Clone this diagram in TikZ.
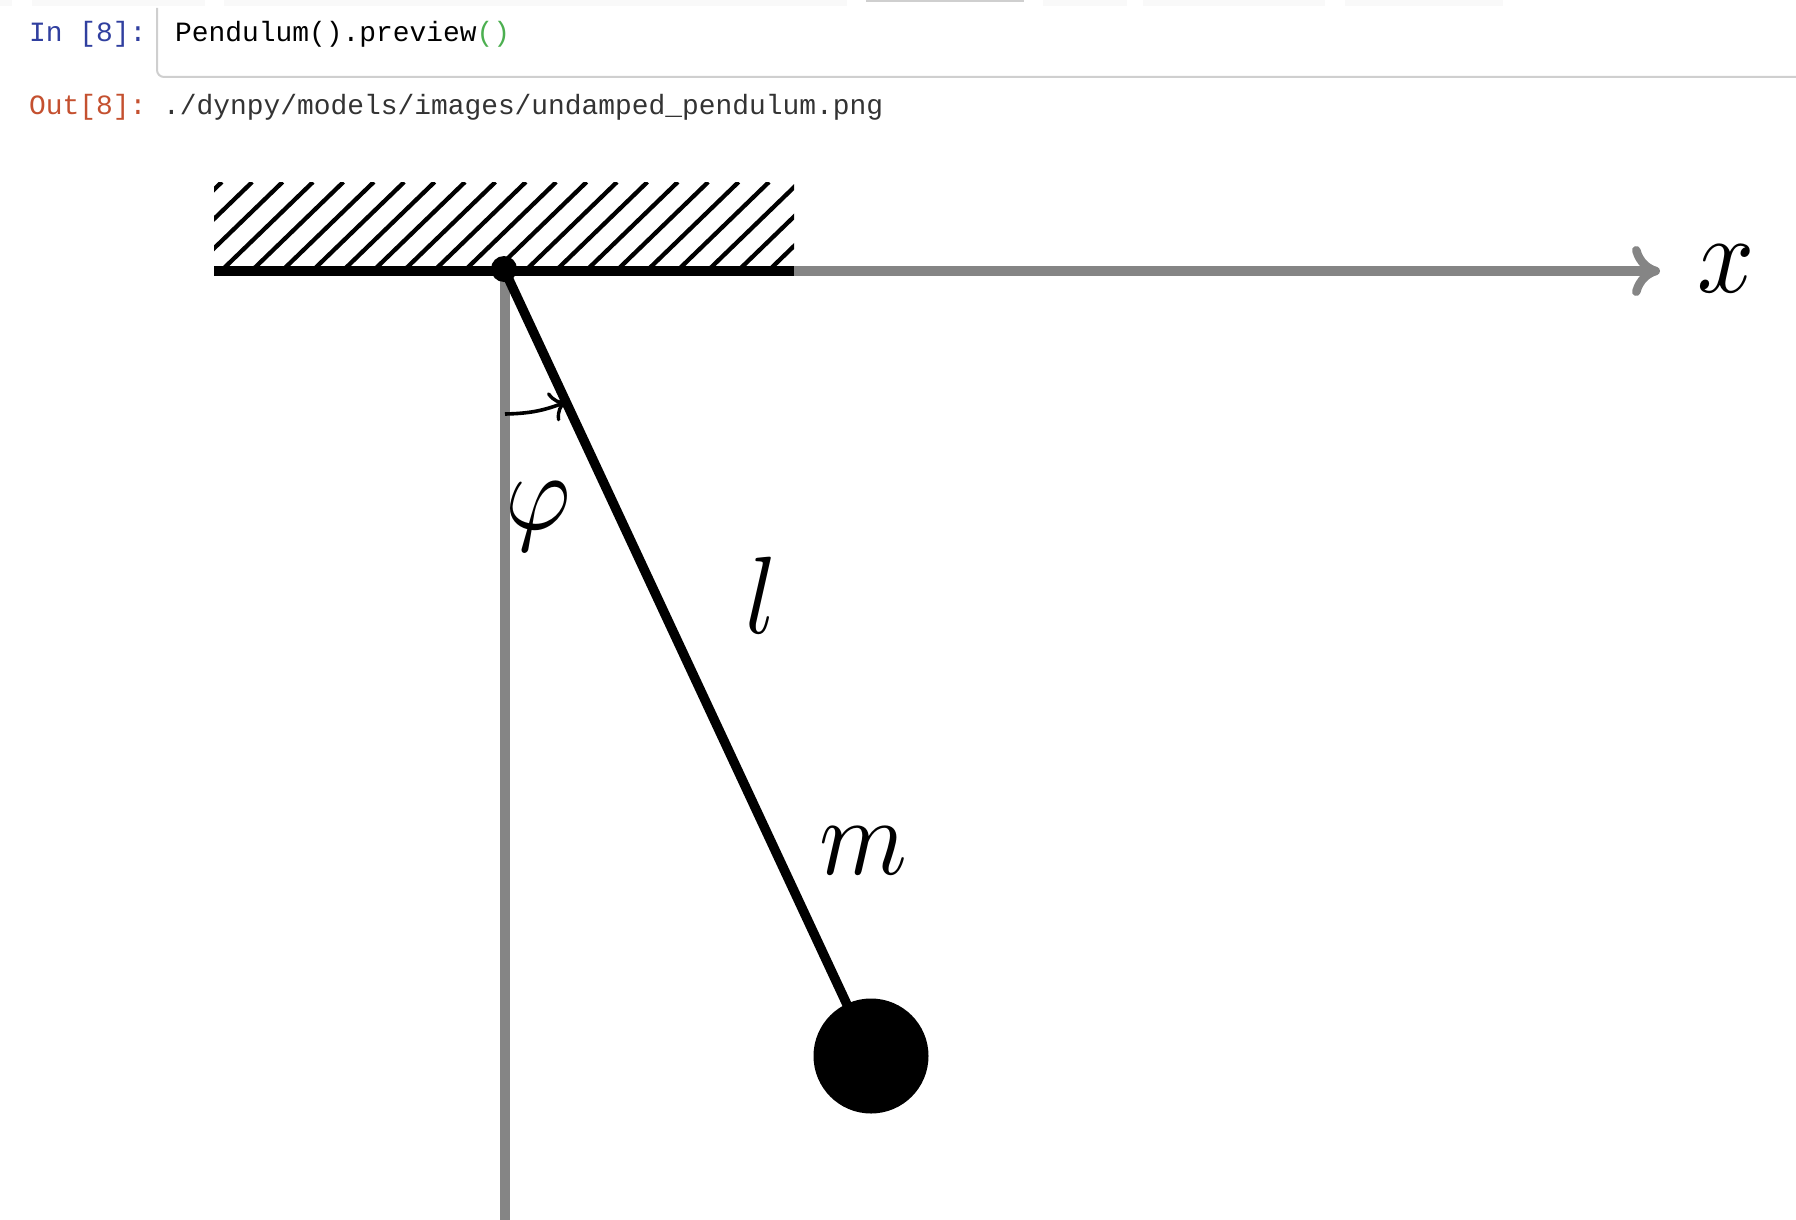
\documentclass[tikz,border=0pt]{standalone}
\usepackage{fontspec}
\setmonofont{Liberation Mono}
\usetikzlibrary{arrows.meta}
\definecolor{axisgray}{HTML}{858585}
\definecolor{cellgray}{HTML}{CFCFCF}
\definecolor{tabgray}{HTML}{F9F9F9}
\definecolor{inblue}{HTML}{303F9F}
\definecolor{outred}{HTML}{C4502F}
\definecolor{parengreen}{HTML}{4CAF50}
\tikzset{
  code/.style={anchor=base west,inner sep=0pt,font=\fontsize{27.9}{30}\ttfamily},
  symb/.style={inner sep=0pt,xscale=10,yscale=11},
  thickline/.style={line width=10.5pt},
  axisline/.style={line width=10.5pt,draw=axisgray}
}
\begin{document}
\begin{tikzpicture}[x=1pt,y=-1pt]
\useasboundingbox (0,0) rectangle (1796,1220);
% notebook cells
\foreach \a/\b in {0/12,32/205,224/847,1043/1127,1143/1325,1345/1503}
  \fill [tabgray] (\a,0) rectangle (\b,6);
\fill [cellgray] (866,0) rectangle (1024,2);
\node [code,text=inblue] (inlabel) at (29,42) {In [8]:};
\node [code] (incode) at (175,42) {Pendulum().preview\textcolor{parengreen}{()}};
\node [code,text=outred] (outlabel) at (29,115) {Out[8]:};
\node [code,text=black!80] (outtext) at (163,115) {./dynpy/models/images/undamped\_pendulum.png};
\draw [cellgray,line width=2pt,rounded corners=7pt] (157,8) -- (157,77) -- (1796,77);
% axes
\coordinate (wallL) at (214,271);
\coordinate (wallR) at (794,271);
\coordinate (down) at (505,1220);
\coordinate (axisend) at (1660,271);
\draw [axisline] (505,270) -- (down);
\draw [axisline,-{Computer Modern Rightarrow[length=28pt,width=50pt,line width=8.5pt]}] (wallR) -- (axisend);
\node [symb] (xlabel) at (1726,269) {$x$};
% wall
\begin{scope}
\clip (214,182) rectangle (794,271);
\foreach \k in {-3,...,19} \draw [line width=4.3pt] (221+30.4*\k,271) -- ++(92,-89);
\end{scope}
\draw [thickline] (wallL) -- (wallR);
% pendulum
\node [circle,fill=black,minimum size=26pt,inner sep=0pt] (pivot) at (504,269) {};
\node [circle,fill=black,minimum size=115pt,inner sep=0pt] (bob) at (871,1056) {};
\draw [line width=9.5pt] (pivot.center) -- (bob.center);
\coordinate (arcA) at (505,414);
\coordinate (arcB) at (566,402);
\draw [line width=3.6pt,-{Computer Modern Rightarrow[length=15pt,width=31pt,line width=3.4pt]}] (arcA) to [bend right=10] (arcB);
\node [symb] (philabel) at (538,517) {$\varphi$};
\node [symb] (llabel) at (761,595) {$l$};
\node [symb] (mlabel) at (863,851) {$m$};
\end{tikzpicture}
\end{document}
